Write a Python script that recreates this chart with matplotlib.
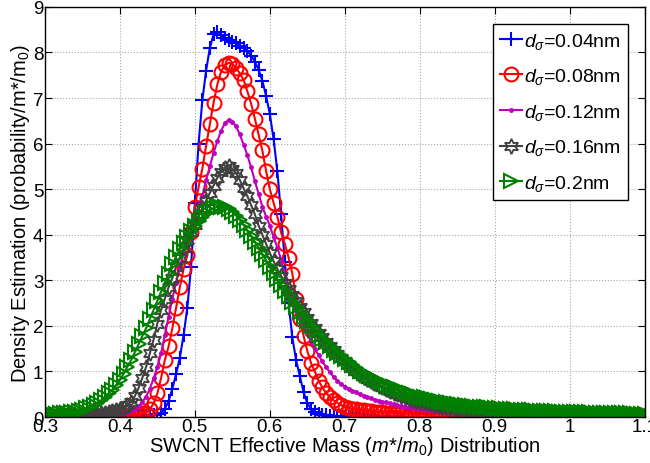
import numpy as np
import matplotlib
matplotlib.use("Agg")
import matplotlib.pyplot as plt

plt.rcParams['font.family'] = ['Liberation Sans', 'DejaVu Sans']
plt.rcParams['mathtext.fontset'] = 'custom'
plt.rcParams['mathtext.rm'] = 'Liberation Sans'
plt.rcParams['mathtext.it'] = 'Liberation Sans:italic'
plt.rcParams['mathtext.sf'] = 'Liberation Sans'

# x grid: 0.300 .. 1.100 step 0.005
x = np.round(np.arange(0.300, 1.1001, 0.005), 3)

d004 = [0, 0, 0, 0, 0, 0, 0, 0, 0, 0, 0, 0, 0, 0, 0, 0, 0, 0, 0, 0.005, 0.01,
        0.01, 0.01, 0.01, 0.015, 0.02, 0.025, 0.03, 0.04, 0.05, 0.07, 0.10, 0.18, 0.35, 0.62, 0.95, 1.3, 1.8, 2.4, 3.3, 4.7,
        6.0, 6.95, 7.6, 8.1, 8.4, 8.45, 8.38, 8.32, 8.28, 8.24, 8.2, 8.15, 8.1, 8.03, 7.93, 7.8, 7.62, 7.38, 7.05, 6.65,
        6.1, 5.4, 4.45, 3.4, 2.5, 1.75, 1.25, 0.9, 0.55, 0.3, 0.18, 0.11, 0.07, 0.05, 0.035, 0.025, 0.02, 0.015, 0.01, 0.01,
        0.008, 0.007, 0.006, 0.005, 0.005, 0.005, 0.004, 0.004, 0.004, 0.003, 0.003, 0.003, 0.003, 0.002, 0.002, 0.002, 0.002, 0.002, 0.002, 0.002,
        0.001, 0.001, 0.001, 0.001, 0.001, 0.001, 0.001, 0.001, 0.001, 0.001, 0.001, 0.001, 0.001, 0.001, 0.001, 0.001, 0.001, 0.001, 0.001, 0.001,
        0, 0, 0, 0, 0, 0, 0, 0, 0, 0, 0, 0, 0, 0, 0, 0, 0, 0, 0, 0,
        0, 0, 0, 0, 0, 0, 0, 0, 0, 0, 0, 0, 0, 0, 0, 0, 0, 0, 0, 0]

d008 = [0.02, 0.02, 0.02, 0.02, 0.02, 0.02, 0.02, 0.02, 0.02, 0.02, 0.025, 0.025, 0.025, 0.03, 0.03, 0.03, 0.035, 0.035, 0.04, 0.04, 0.045,
        0.05, 0.05, 0.055, 0.06, 0.065, 0.08, 0.1, 0.17, 0.3, 0.52, 0.86, 1.25, 1.55, 1.95, 2.4, 2.85, 3.25, 3.55, 4.05, 4.6,
        5.05, 5.45, 5.95, 6.42, 6.9, 7.3, 7.58, 7.72, 7.77, 7.75, 7.66, 7.54, 7.4, 7.15, 6.88, 6.55, 6.2, 5.85, 5.4, 5.0,
        4.7, 4.4, 4.05, 3.8, 3.5, 3.15, 2.6, 2.15, 1.78, 1.45, 1.18, 1.0, 0.8, 0.65, 0.53, 0.44, 0.37, 0.31, 0.26, 0.22,
        0.2, 0.185, 0.17, 0.155, 0.145, 0.135, 0.125, 0.115, 0.11, 0.105, 0.1, 0.095, 0.09, 0.085, 0.082, 0.08, 0.077, 0.074, 0.071, 0.068,
        0.066, 0.064, 0.062, 0.06, 0.058, 0.056, 0.055, 0.054, 0.053, 0.052, 0.051, 0.05, 0.049, 0.048, 0.047, 0.046, 0.045, 0.044, 0.043, 0.042,
        0.041, 0.041, 0.040, 0.040, 0.039, 0.039, 0.038, 0.038, 0.037, 0.037, 0.036, 0.036, 0.035, 0.035, 0.034, 0.034, 0.033, 0.033, 0.032, 0.032,
        0.031, 0.031, 0.030, 0.030, 0.030, 0.029, 0.029, 0.029, 0.028, 0.028, 0.028, 0.027, 0.027, 0.027, 0.026, 0.026, 0.026, 0.025, 0.025, 0.025]

d012 = [0.01, 0.01, 0.01, 0.012, 0.014, 0.016, 0.018, 0.02, 0.022, 0.025, 0.028, 0.03, 0.033, 0.036, 0.04, 0.045, 0.05, 0.055, 0.06, 0.07, 0.08,
        0.09, 0.11, 0.14, 0.18, 0.24, 0.33, 0.45, 0.62, 0.85, 1.1, 1.4, 1.8, 2.2, 2.6, 2.95, 3.3, 3.6, 3.85, 4.15, 4.4,
        4.65, 4.85, 5.2, 5.5, 5.8, 6.05, 6.28, 6.45, 6.52, 6.48, 6.38, 6.2, 5.98, 5.75, 5.48, 5.18, 4.9, 4.62, 4.4, 4.2,
        3.95, 3.72, 3.45, 3.15, 2.8, 2.55, 2.33, 2.15, 1.98, 1.82, 1.65, 1.5, 1.36, 1.22, 1.1, 0.98, 0.88, 0.8, 0.73, 0.67,
        0.62, 0.58, 0.54, 0.5, 0.47, 0.44, 0.41, 0.38, 0.36, 0.34, 0.32, 0.3, 0.28, 0.26, 0.245, 0.23, 0.215, 0.2, 0.19, 0.18,
        0.17, 0.16, 0.15, 0.14, 0.13, 0.125, 0.12, 0.115, 0.11, 0.105, 0.1, 0.095, 0.09, 0.086, 0.082, 0.078, 0.074, 0.07, 0.067, 0.064,
        0.062, 0.061, 0.060, 0.059, 0.058, 0.057, 0.056, 0.055, 0.054, 0.053, 0.052, 0.051, 0.050, 0.049, 0.048, 0.047, 0.047, 0.046, 0.046, 0.045,
        0.044, 0.044, 0.043, 0.043, 0.042, 0.042, 0.041, 0.041, 0.040, 0.040, 0.039, 0.039, 0.038, 0.038, 0.037, 0.037, 0.036, 0.036, 0.035, 0.035]

d016 = [0.02, 0.02, 0.02, 0.025, 0.025, 0.03, 0.03, 0.035, 0.04, 0.045, 0.05, 0.055, 0.06, 0.065, 0.075, 0.085, 0.095, 0.11, 0.13, 0.15, 0.18,
        0.2, 0.26, 0.34, 0.46, 0.64, 0.86, 1.1, 1.4, 1.7, 2.05, 2.35, 2.6, 2.85, 3.05, 3.3, 3.5, 3.7, 3.88, 4.05, 4.22,
        4.4, 4.58, 4.75, 4.92, 5.08, 5.25, 5.38, 5.47, 5.5, 5.45, 5.35, 5.2, 5.02, 4.85, 4.65, 4.45, 4.2, 4.0, 3.8, 3.6,
        3.42, 3.25, 3.1, 2.95, 2.82, 2.68, 2.55, 2.42, 2.3, 2.18, 2.06, 1.95, 1.85, 1.75, 1.65, 1.56, 1.47, 1.38, 1.3, 1.22,
        1.15, 1.08, 1.01, 0.95, 0.89, 0.84, 0.79, 0.74, 0.69, 0.65, 0.61, 0.57, 0.53, 0.5, 0.47, 0.44, 0.41, 0.38, 0.36, 0.34,
        0.32, 0.3, 0.28, 0.26, 0.245, 0.23, 0.215, 0.2, 0.19, 0.18, 0.17, 0.16, 0.15, 0.145, 0.14, 0.13, 0.125, 0.12, 0.115, 0.11,
        0.105, 0.102, 0.099, 0.096, 0.093, 0.09, 0.088, 0.086, 0.084, 0.082, 0.08, 0.078, 0.076, 0.075, 0.074, 0.073, 0.072, 0.071, 0.07, 0.069,
        0.068, 0.067, 0.066, 0.065, 0.064, 0.063, 0.062, 0.061, 0.06, 0.059, 0.058, 0.057, 0.056, 0.055, 0.054, 0.053, 0.052, 0.051, 0.051, 0.05]

d020 = [0.06, 0.065, 0.07, 0.075, 0.08, 0.09, 0.1, 0.11, 0.12, 0.14, 0.16, 0.19, 0.22, 0.26, 0.31, 0.37, 0.44, 0.52, 0.6, 0.7, 0.82,
        0.95, 1.1, 1.25, 1.42, 1.6, 1.78, 1.95, 2.15, 2.35, 2.55, 2.75, 2.95, 3.15, 3.35, 3.52, 3.68, 3.83, 3.96, 4.08, 4.2,
        4.3, 4.4, 4.47, 4.53, 4.58, 4.61, 4.62, 4.6, 4.56, 4.5, 4.42, 4.33, 4.22, 4.1, 3.98, 3.85, 3.72, 3.58, 3.44, 3.3,
        3.16, 3.03, 2.9, 2.77, 2.65, 2.53, 2.42, 2.31, 2.2, 2.1, 2.0, 1.9, 1.81, 1.72, 1.64, 1.56, 1.48, 1.41, 1.34, 1.27,
        1.2, 1.14, 1.08, 1.02, 0.97, 0.92, 0.87, 0.83, 0.79, 0.75, 0.71, 0.68, 0.65, 0.62, 0.59, 0.56, 0.53, 0.5, 0.47, 0.45,
        0.43, 0.41, 0.39, 0.37, 0.35, 0.335, 0.32, 0.305, 0.29, 0.28, 0.27, 0.26, 0.25, 0.24, 0.23, 0.22, 0.215, 0.21, 0.2, 0.195,
        0.19, 0.185, 0.18, 0.175, 0.17, 0.165, 0.16, 0.155, 0.15, 0.146, 0.142, 0.138, 0.134, 0.13, 0.127, 0.124, 0.121, 0.118, 0.115, 0.112,
        0.11, 0.108, 0.106, 0.104, 0.102, 0.1, 0.098, 0.096, 0.094, 0.092, 0.09, 0.088, 0.086, 0.084, 0.082, 0.08, 0.078, 0.076, 0.074, 0.072]

labels = ['0.04', '0.08', '0.12', '0.16', '0.2']
xticks = [0.3, 0.4, 0.5, 0.6, 0.7, 0.8, 0.9, 1.0, 1.1]
xticklabels = ['0.3', '0.4', '0.5', '0.6', '0.7', '0.8', '0.9', '1', '1.1']
yticks = list(range(0, 10))

fig = plt.figure(figsize=(6.5, 4.64), dpi=100)
ax = fig.add_axes([0.069, 0.099, 0.923, 0.884])

ax.grid(True, linestyle=':', color='#a8a8a8', linewidth=0.8)
ax.set_axisbelow(True)

styles = [
    dict(color='#0000ff', marker='+', ms=10, mew=1.5, mfc='none'),
    dict(color='#ff0000', marker='o', ms=10, mew=1.5, mfc='none'),
    dict(color='#bf00bf', marker='.', ms=5, mew=1.0),
    dict(color='#404040', marker=(6, 1, 0), ms=11, mew=1.3, mfc='none'),
    dict(color='#008000', marker='>', ms=10, mew=1.5, mfc='none'),
]
series = [d004, d008, d012, d016, d020]
for ys, lab, st in zip(series, labels, styles):
    ax.plot(x, ys, lw=1.5, label=r'$d_{\sigma}$=' + lab + 'nm', **st)

ax.set_xlim(0.3, 1.1)
ax.set_ylim(0, 9)
ax.set_xticks(xticks)
ax.set_xticklabels(xticklabels)
ax.set_yticks(yticks)
ax.tick_params(direction='in', top=True, right=True, length=5, labelsize=13.5, pad=1)
for s in ax.spines.values():
    s.set_linewidth(1.0)

ax.set_xlabel(r'SWCNT Effective Mass ($m$*/$m_0$) Distribution', fontsize=14.5, labelpad=-1)
ax.set_ylabel(r'Density Estimation (probability/m*/m$_\mathrm{0}$)', fontsize=14.5, labelpad=1)

leg = ax.legend(loc='upper right', bbox_to_anchor=(0.972, 0.9585), fontsize=14,
                fancybox=False, edgecolor='black', framealpha=1, handlelength=1.1,
                handletextpad=0.15, borderpad=0.35, labelspacing=0.8, borderaxespad=0)
leg.get_frame().set_linewidth(1.0)

fig.savefig('out.png', dpi=100)
